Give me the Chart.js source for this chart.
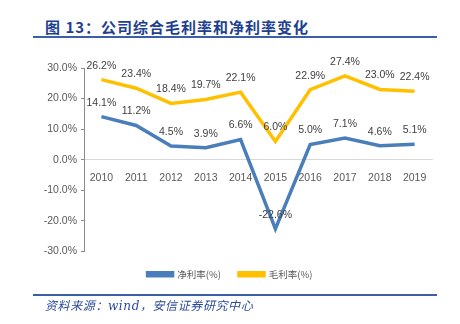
<!DOCTYPE html>
<html>
<head>
<meta charset="utf-8">
<script src="https://cdn.jsdelivr.net/npm/chart.js@4.4.1/dist/chart.umd.min.js"></script>
<style>
  body { margin: 0; background: #fff; }
  #wrap { position: relative; width: 460px; height: 324px; }
  #title {
    position: absolute; left: 45px; top: 16px;
    font: bold 15px "Noto Sans CJK SC", sans-serif; color: #1f3f8f; letter-spacing: 1px;
  }
  .rule { position: absolute; left: 33px; width: 404px; height: 2px; background: #3a5ea8; }
  #source {
    position: absolute; left: 45px; top: 296px;
    font: italic 12px "DejaVu Serif", "Noto Sans CJK SC", serif; color: #2b4a9a; letter-spacing: 0.6px;
  }
  canvas { position: absolute; left: 0; top: 0; }
</style>
</head>
<body>
<div id="wrap">
  <div id="title">图 13：公司综合毛利率和净利率变化</div>
  <div class="rule" style="top:36px"></div>
  <canvas id="c" width="460" height="324"></canvas>
  <div class="rule" style="top:294px"></div>
  <div id="source">资料来源：wind，安信证券研究中心</div>
</div>
<script>
const years = ["2010", "2011", "2012", "2013", "2014", "2015", "2016", "2017", "2018", "2019"];
const netMargin = [14.1, 11.2, 4.5, 3.9, 6.6, -22.6, 5.0, 7.1, 4.6, 5.1];
const grossMargin = [26.2, 23.4, 18.4, 19.7, 22.1, 6.0, 22.9, 27.4, 23.0, 22.4];
const yTicks = [-30, -20, -10, 0, 10, 20, 30];

const labelPlugin = {
  id: "pointLabels",
  afterDatasetsDraw(chart) {
    const { ctx } = chart;
    ctx.save();
    ctx.font = "10.5px 'Liberation Sans', Arial, sans-serif";
    ctx.fillStyle = "#404040";
    ctx.textAlign = "center";
    ctx.textBaseline = "middle";
    chart.data.datasets.forEach((ds, i) => {
      chart.getDatasetMeta(i).data.forEach((pt, j) => {
        ctx.fillText(ds.data[j].toFixed(1) + "%", pt.x, pt.y - 14);
      });
    });
    ctx.restore();
  },
};

new Chart(document.getElementById("c"), {
  type: "line",
  data: {
    labels: years,
    datasets: [
      {
        label: "净利率(%)",
        data: netMargin,
        borderColor: "#4a7ebb",
        backgroundColor: "#4a7ebb",
        borderWidth: 3.5,
        pointRadius: 0,
        tension: 0,
      },
      {
        label: "毛利率(%)",
        data: grossMargin,
        borderColor: "#ffc000",
        backgroundColor: "#ffc000",
        borderWidth: 3.5,
        pointRadius: 0,
        tension: 0,
      },
    ],
  },
  options: {
    responsive: false,
    animation: false,
    layout: { padding: { left: 28, top: 68, right: 28, bottom: 35 } },
    plugins: {
      legend: {
        position: "bottom",
        labels: {
          boxWidth: 25,
          boxHeight: 3,
          padding: 18,
          color: "#595959",
          font: { size: 9.5, family: "'Noto Sans CJK SC', sans-serif" },
        },
      },
      tooltip: { enabled: false },
    },
    scales: {
      x: {
        position: { y: 0 },
        offset: true,
        grid: { display: false },
        border: { color: "#d9d9d9", width: 1 },
        ticks: {
          color: "#595959",
          font: { size: 10.5, family: "'Liberation Sans', Arial, sans-serif" },
          maxRotation: 0,
          padding: 4,
        },
      },
      y: {
        min: -30,
        max: 30,
        afterBuildTicks(scale) {
          scale.ticks = yTicks.map(v => ({ value: v }));
        },
        afterFit(scale) {
          scale.width = 56;
        },
        grid: { drawOnChartArea: false, drawTicks: true, tickLength: 3, color: "#8c8c8c" },
        border: { color: "#8c8c8c", width: 1 },
        ticks: {
          color: "#595959",
          font: { size: 10.5, family: "'Liberation Sans', Arial, sans-serif" },
          padding: 4,
          callback: v => v.toFixed(1) + "%",
        },
      },
    },
  },
  plugins: [labelPlugin],
});
</script>
</body>
</html>
